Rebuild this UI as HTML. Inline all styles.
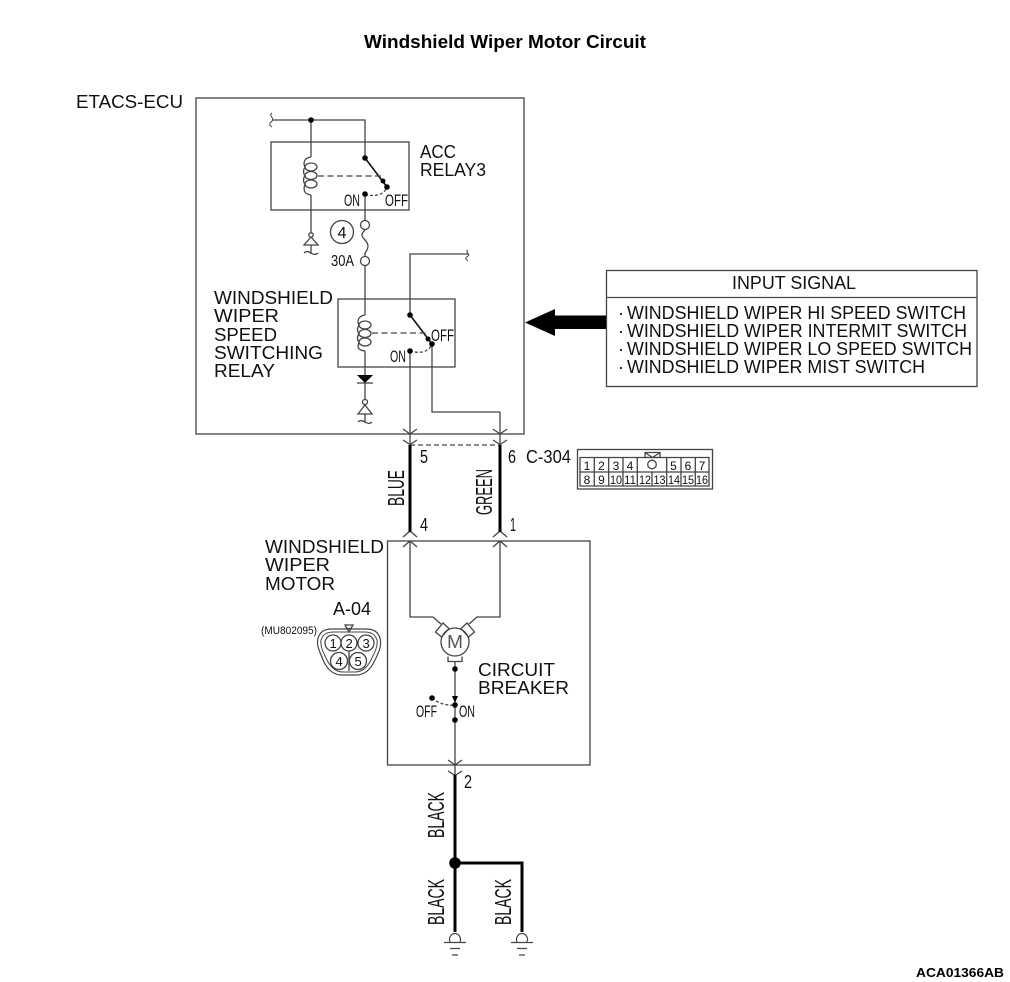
<!DOCTYPE html>
<html><head><meta charset="utf-8"><style>
html,body{margin:0;padding:0;background:#fff}
svg{display:block}
text{font-family:"Liberation Sans",sans-serif;fill:#111}
.s{font-size:18px}
.c{font-size:12px;text-anchor:middle}
</style></head><body>
<svg width="1010" height="982" viewBox="0 0 1010 982" xmlns="http://www.w3.org/2000/svg">
<text x="364" y="48" font-size="18.500" font-weight="bold" textLength="282" lengthAdjust="spacingAndGlyphs" style="fill:#000">Windshield Wiper Motor Circuit</text>
<text x="916" y="977" font-size="13" font-weight="bold" textLength="88" lengthAdjust="spacingAndGlyphs" style="fill:#000">ACA01366AB</text>

<g fill="none" stroke="#444" stroke-width="1.300">
<rect x="196" y="98" width="328" height="336"/>
<rect x="271" y="142" width="138" height="68"/>
<rect x="338" y="299" width="117" height="68"/>
<rect x="387.500" y="541" width="202.500" height="224"/>
<rect x="606.500" y="270.500" width="370.500" height="116"/>
<path d="M607 297.500H977"/>
<!-- ACC relay -->
<path d="M272 120H365V158M311 120V157M311 195V233M365 194V221M365 230c-4 4-4 6 0 10s4 8 0 13v4M365 266V315M365 351V375M365 383V400"/>
<path d="M272 113c-4 3 3 5 0 8s-3 4 0 6" stroke-width="1"/>
<path d="M311 157C304 158 303 163 305 167M305 176C303 178 303 182 305 184M305 184C303 190 304 194 311 195M305 167C303 170 303 173 305 176"/>
<ellipse cx="311" cy="167" rx="6" ry="4"/><ellipse cx="311" cy="175.500" rx="6" ry="4"/><ellipse cx="311" cy="184" rx="6" ry="4"/>
<path d="M365 158L387 187" stroke="#111" stroke-width="1.600"/>
<path d="M318 176H382" stroke-dasharray="6 3.500"/>
<path d="M365 194.500C375 197 384 195 387 187" stroke-dasharray="3 2"/>
<circle cx="365" cy="225" r="4.500"/>
<circle cx="365" cy="261" r="4.500"/>
<circle cx="342" cy="232" r="11.500"/>
<!-- ground tick 1 -->
<circle cx="311" cy="235" r="2.200"/>
<path d="M311 237L304 245H318ZM311 245V254M304 253c2-2 4-2 7 0s5 2 7 0"/>
<!-- speed relay -->
<path d="M468 250c-4 2 3 4 0 6s-3 3 0 5" stroke-width="1"/>
<path d="M468 254H410V315M410 351V444M500 412V444"/>
<path d="M432 344V412H500"/>
<path d="M365 315C358 316 357 321 359 325M359 334C357 336 357 340 359 342M359 342C357 348 358 350 365 351M359 325C357 328 357 331 359 334"/>
<ellipse cx="365" cy="325" rx="6" ry="4"/><ellipse cx="365" cy="333.500" rx="6" ry="4"/><ellipse cx="365" cy="342" rx="6" ry="4"/>
<path d="M410 315L432 344" stroke="#111" stroke-width="1.600"/>
<path d="M372 333H428" stroke-dasharray="6 3.500"/>
<path d="M410 351C420 354 429 352 432 344" stroke-dasharray="3 2"/>
<path d="M357 383H373"/>
<circle cx="365" cy="402" r="2.500"/>
<path d="M365 405L358 414H372ZM365 414V423M358 422c2-2 4-2 7 0s5 2 7 0"/>
<!-- chevrons top -->
<path d="M403 429L410 434L417 429M403 440L410 444.500L417 440M493 429L500 434L507 429M493 440L500 444.500L507 440"/>
<path d="M410 445H500" stroke-dasharray="5 3"/>
<!-- chevrons lower -->
<path d="M403 537L410 531L417 537M403 547L410 541L417 547M493 537L500 531L507 537M493 547L500 541L507 547"/>
<!-- motor wiring -->
<path d="M410 541V617H433L441 624M500 541V617H477L469 624"/>
<circle cx="455" cy="642" r="14"/>
<path d="M435.500 632L443 623L449 628.500L441.500 637ZM474.500 632L467 623L461 628.500L468.500 637ZM448 656.500V661.500H462V656.500"/>
<path d="M455 661V775"/>
<path d="M432 698C438 703 446 706 455 705" stroke-dasharray="3 2"/>
<path d="M448 760L455 765L462 760M448 771L455 775.500L462 771"/>
<!-- connector C-304 -->
<rect x="577.500" y="449.500" width="135" height="39.500"/>
<path d="M580 457.500H709V486H580ZM580 472H709"/>
<path d="M594.300 457.500V486M608.700 457.500V486M623 457.500V486M637.300 457.500V486M652 472V486M666.700 457.500V486M681 457.500V486M695.300 457.500V486"/>
<path d="M645 452.500H660V457.500H645ZM645 452.500L652.500 457.500L660 452.500"/>
<circle cx="652" cy="464.500" r="4.300"/>
<!-- connector A-04 -->
<path d="M332 629H367C374 629 378 632 380 638C382 646 379 652 374 662C370 670 364 675 356 675H342C334 675 328 670 324 662C320 652 316 646 318 638C320 632 324 629 332 629Z" stroke-width="1.200"/>
<path d="M334 632H364C371 632 375 634 377 640C378 646 375 652 371 660C367 668 362 672 355 672H343C336 672 331 668 327 660C323 652 320 646 321 640C323 634 327 632 334 632Z" stroke-width="1"/>
<circle cx="333" cy="643" r="8"/>
<circle cx="349" cy="643" r="8"/>
<circle cx="366" cy="643" r="8"/>
<circle cx="339" cy="661" r="8.500"/>
<circle cx="358" cy="661" r="8.500"/>
<path d="M349 651V671M345 625H353L349 632ZM346 628.500H352"/>
</g>

<!-- thick wires -->
<g fill="none" stroke="#000" stroke-width="3">
<path d="M410 445V532M500 445V532M455 775V932M455 863H522V932"/>
</g>
<!-- dots -->
<g fill="#000">
<circle cx="311" cy="120" r="2.800"/><circle cx="365" cy="158" r="2.800"/><circle cx="383" cy="181" r="2.500"/><circle cx="387" cy="187" r="2.800"/><circle cx="365" cy="194" r="2.800"/>
<circle cx="410" cy="315" r="2.800"/><circle cx="428" cy="339" r="2.500"/><circle cx="432" cy="344" r="2.800"/><circle cx="410" cy="351" r="2.800"/>
<path d="M357 375H373L365 383Z"/>
<circle cx="455" cy="669" r="2.800"/><circle cx="455" cy="705" r="2.800"/><circle cx="455" cy="720" r="2.800"/><circle cx="432" cy="698" r="2.800"/>
<path d="M452 696H458L455 703Z"/>
<circle cx="455" cy="863" r="5.800"/>
<path d="M606 315.500V329H555V336L525 322.500L555 309V315.500Z"/>
</g>
<!-- grounds -->
<g fill="#fff" stroke="#444" stroke-width="1.200">
<path d="M450 942A5.500 6 0 1 1 460 942"/><path d="M444 942.500H466" fill="none"/><path d="M450 948.500H460M452 955H458" fill="none"/>
<path d="M517 942A5.500 6 0 1 1 527 942"/><path d="M511 942.500H533" fill="none"/><path d="M517 948.500H527M519 955H525" fill="none"/>
</g>

<!-- helvetica labels -->
<text class="s" x="76" y="108" textLength="107" lengthAdjust="spacingAndGlyphs">ETACS-ECU</text>
<text class="s" x="420" y="158" textLength="36" lengthAdjust="spacingAndGlyphs">ACC</text>
<text class="s" x="420" y="176" textLength="66" lengthAdjust="spacingAndGlyphs">RELAY3</text>
<text class="s" x="214" y="304" textLength="119" lengthAdjust="spacingAndGlyphs">WINDSHIELD</text>
<text class="s" x="214" y="322" textLength="65" lengthAdjust="spacingAndGlyphs">WIPER</text>
<text class="s" x="214" y="341" textLength="63" lengthAdjust="spacingAndGlyphs">SPEED</text>
<text class="s" x="214" y="359" textLength="109" lengthAdjust="spacingAndGlyphs">SWITCHING</text>
<text class="s" x="214" y="377" textLength="61" lengthAdjust="spacingAndGlyphs">RELAY</text>
<text class="s" x="265" y="553" textLength="119" lengthAdjust="spacingAndGlyphs">WINDSHIELD</text>
<text class="s" x="265" y="571" textLength="65" lengthAdjust="spacingAndGlyphs">WIPER</text>
<text class="s" x="265" y="590" textLength="70" lengthAdjust="spacingAndGlyphs">MOTOR</text>
<text class="s" x="478" y="676" textLength="77" lengthAdjust="spacingAndGlyphs">CIRCUIT</text>
<text class="s" x="478" y="694" textLength="91" lengthAdjust="spacingAndGlyphs">BREAKER</text>
<text class="s" x="732" y="289" textLength="124" lengthAdjust="spacingAndGlyphs">INPUT SIGNAL</text>
<text class="s" x="618" y="319">·</text><text class="s" x="618" y="337">·</text><text class="s" x="618" y="355">·</text><text class="s" x="618" y="373">·</text>
<text class="s" x="627" y="319" textLength="339" lengthAdjust="spacingAndGlyphs">WINDSHIELD WIPER HI SPEED SWITCH</text>
<text class="s" x="627" y="337" textLength="340" lengthAdjust="spacingAndGlyphs">WINDSHIELD WIPER INTERMIT SWITCH</text>
<text class="s" x="627" y="355" textLength="345" lengthAdjust="spacingAndGlyphs">WINDSHIELD WIPER LO SPEED SWITCH</text>
<text class="s" x="627" y="373" textLength="298" lengthAdjust="spacingAndGlyphs">WINDSHIELD WIPER MIST SWITCH</text>

<!-- narrow labels -->
<text x="344" y="206" style="font-size:17px" textLength="16" lengthAdjust="spacingAndGlyphs">ON</text>
<text x="385" y="206" style="font-size:17px" textLength="23" lengthAdjust="spacingAndGlyphs">OFF</text>
<text x="337.500" y="238" style="font-size:16px" textLength="9" lengthAdjust="spacingAndGlyphs">4</text>
<text x="331" y="266" style="font-size:16px" textLength="23" lengthAdjust="spacingAndGlyphs">30A</text>
<text x="431" y="341" style="font-size:17px" textLength="23" lengthAdjust="spacingAndGlyphs">OFF</text>
<text x="390" y="362" style="font-size:17px" textLength="16" lengthAdjust="spacingAndGlyphs">ON</text>
<text x="420" y="463" style="font-size:18px" textLength="8" lengthAdjust="spacingAndGlyphs">5</text>
<text x="508" y="463" style="font-size:18px" textLength="8" lengthAdjust="spacingAndGlyphs">6</text>
<text x="526" y="463" style="font-size:18px" textLength="45" lengthAdjust="spacingAndGlyphs">C-304</text>
<text x="420" y="531" style="font-size:18px" textLength="8" lengthAdjust="spacingAndGlyphs">4</text>
<text x="510" y="531" style="font-size:18px" textLength="6" lengthAdjust="spacingAndGlyphs">1</text>
<text x="464" y="788" style="font-size:18px" textLength="8" lengthAdjust="spacingAndGlyphs">2</text>
<text x="333" y="615" style="font-size:18px" textLength="38" lengthAdjust="spacingAndGlyphs">A-04</text>
<text x="261" y="634" style="font-size:11px" textLength="56" lengthAdjust="spacingAndGlyphs">(MU802095)</text>
<text x="416" y="717" style="font-size:17px" textLength="21" lengthAdjust="spacingAndGlyphs">OFF</text>
<text x="459" y="717" style="font-size:17px" textLength="16" lengthAdjust="spacingAndGlyphs">ON</text>
<text x="455" y="648" text-anchor="middle" style="font-size:18px;fill:#555" textLength="16" lengthAdjust="spacingAndGlyphs">M</text>

<g>
<text class="c" x="587" y="470">1</text><text class="c" x="601.500" y="470">2</text><text class="c" x="616" y="470">3</text><text class="c" x="630" y="470">4</text>
<text class="c" x="673.500" y="470">5</text><text class="c" x="688" y="470">6</text><text class="c" x="702" y="470">7</text>
<text class="c" x="587" y="484">8</text><text class="c" x="601.500" y="484">9</text>
<text class="c" x="616" y="484" textLength="12" lengthAdjust="spacingAndGlyphs">10</text><text class="c" x="630" y="484" textLength="12" lengthAdjust="spacingAndGlyphs">11</text><text class="c" x="645" y="484" textLength="12" lengthAdjust="spacingAndGlyphs">12</text><text class="c" x="659.500" y="484" textLength="12" lengthAdjust="spacingAndGlyphs">13</text><text class="c" x="674" y="484" textLength="12" lengthAdjust="spacingAndGlyphs">14</text><text class="c" x="688" y="484" textLength="12" lengthAdjust="spacingAndGlyphs">15</text><text class="c" x="702" y="484" textLength="12" lengthAdjust="spacingAndGlyphs">16</text>
</g>
<g style="font-size:13px">
<text x="329.500" y="648">1</text><text x="345.500" y="648">2</text><text x="362.500" y="648">3</text><text x="335.500" y="666">4</text><text x="354.500" y="666">5</text>
</g>

<!-- rotated labels -->
<g>
<text transform="translate(404 506) rotate(-90)" style="font-size:23px" textLength="36" lengthAdjust="spacingAndGlyphs">BLUE</text>
<text transform="translate(492 515) rotate(-90)" style="font-size:23px" textLength="46" lengthAdjust="spacingAndGlyphs">GREEN</text>
<text transform="translate(444 838) rotate(-90)" style="font-size:23px" textLength="46" lengthAdjust="spacingAndGlyphs">BLACK</text>
<text transform="translate(444 925) rotate(-90)" style="font-size:23px" textLength="46" lengthAdjust="spacingAndGlyphs">BLACK</text>
<text transform="translate(511 925) rotate(-90)" style="font-size:23px" textLength="46" lengthAdjust="spacingAndGlyphs">BLACK</text>
</g>
</svg>
</body></html>
